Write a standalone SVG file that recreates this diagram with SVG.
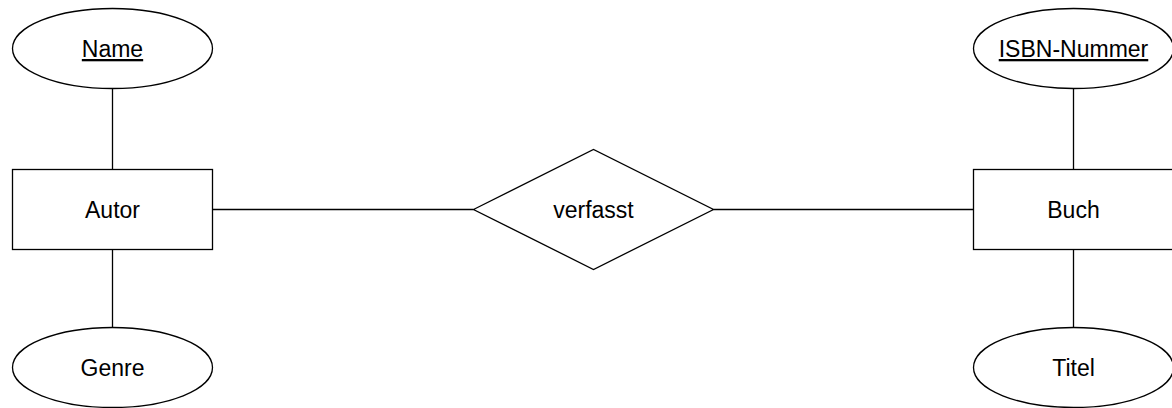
<svg xmlns="http://www.w3.org/2000/svg" width="1172" height="408" viewBox="0 0 1172 408">
<style>
.s{fill:#fff;stroke:#000;stroke-width:1.3}
.l{fill:none;stroke:#000;stroke-width:1.3}
text{font-family:"Liberation Sans",Arial,Helvetica,sans-serif;font-size:23px;fill:#000;text-anchor:middle}
.u{text-decoration:underline}
</style>
<rect width="1172" height="408" fill="#fff"/>
<g id="connectors">
<line class="l" x1="112.5" y1="88.5" x2="112.5" y2="169.5"/>
<line class="l" x1="112.5" y1="249.5" x2="112.5" y2="327.5"/>
<line class="l" x1="1073.5" y1="88.5" x2="1073.5" y2="169.5"/>
<line class="l" x1="1073.5" y1="249.5" x2="1073.5" y2="327.5"/>
<line class="l" x1="212.5" y1="209.5" x2="473.5" y2="209.5"/>
<line class="l" x1="713.5" y1="209.5" x2="973.5" y2="209.5"/>
</g>
<g id="name"><ellipse class="s" cx="112.5" cy="48.5" rx="100" ry="40"/><text class="u" x="112.5" y="57">Name</text></g>
<g id="autor"><rect class="s" x="12.5" y="169.5" width="200" height="80"/><text x="112.5" y="218">Autor</text></g>
<g id="genre"><ellipse class="s" cx="112.5" cy="367.5" rx="100" ry="40"/><text x="112.5" y="376">Genre</text></g>
<g id="verfasst"><polygon class="s" points="473.5,209.5 593.5,149.5 713.5,209.5 593.5,269.5"/><text x="593.5" y="218">verfasst</text></g>
<g id="isbn"><ellipse class="s" cx="1073.5" cy="48.5" rx="100" ry="40"/><text class="u" x="1073.5" y="57">ISBN-Nummer</text></g>
<g id="buch"><rect class="s" x="973.5" y="169.5" width="200" height="80"/><text x="1073.5" y="218">Buch</text></g>
<g id="titel"><ellipse class="s" cx="1073.5" cy="367.5" rx="100" ry="40"/><text x="1073.5" y="376">Titel</text></g>
</svg>
